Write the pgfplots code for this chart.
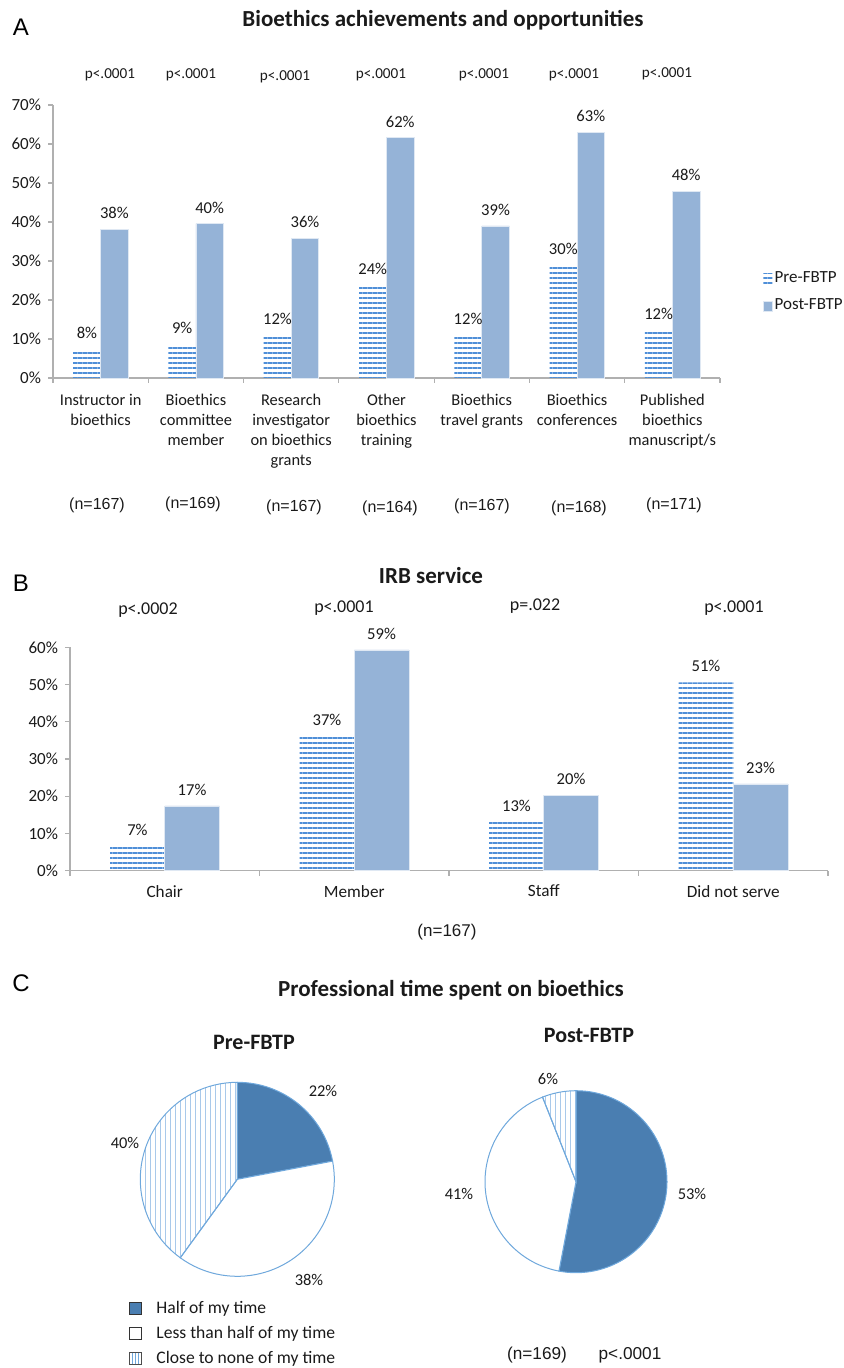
\documentclass[border=0pt]{standalone}
\usepackage{fontspec}
\setmainfont{Carlito}
\newfontfamily\arial{Liberation Sans}
\usepackage{pgfplots}
\pgfplotsset{compat=1.18}
\usepackage{pgfplotstable}
\usetikzlibrary{patterns.meta}
\definecolor{postblue}{HTML}{95B3D7}
\definecolor{preblue}{HTML}{4F8FD8}
\definecolor{axisgray}{HTML}{B0B0B0}
\definecolor{piedark}{HTML}{4A7EB1}
\definecolor{pieedge}{HTML}{6FA8DC}
\definecolor{pielines}{HTML}{A9C9EA}
\definecolor{txt}{HTML}{1A1A1A}

\pgfplotstableread{
x pre prelab post postlab
0.5 7.4 8 38.2 38
1.5 8.6 9 39.6 40
2.5 11.0 12 35.8 36
3.5 23.8 24 61.6 62
4.5 11.0 12 39.0 39
5.5 29.0 30 63.0 63
6.5 12.3 12 47.9 48
}\dataA

\pgfplotstableread{
x pre prelab post postlab
0.5 6.6 7 17.4 17
1.5 36.1 37 59.3 59
2.5 13.2 13 20.3 20
3.5 50.6 51 23.3 23
}\dataB

\pgfplotsset{
 barchart/.style={
  scale only axis, anchor=south west,
  axis x line*=bottom, axis y line*=left,
  axis line style={draw=axisgray, line width=0.6pt},
  tick style={draw=axisgray, line width=0.6pt},
  tick align=outside, major tick length=2.5pt,
  ymin=0, xmin=0,
  ybar=0pt,
  /pgf/number format/assume math mode=true,
  yticklabel={\pgfmathprintnumber{\tick}\%},
  yticklabel style={font=\fontsize{8.5}{10}\selectfont, text=txt},
  xticklabels={},
  extra x tick style={major tick length=0pt, tick style={draw=none}},
  xticklabel style={font=\fontsize{8.2}{10}\selectfont, align=center, anchor=north, inner sep=0pt, text=txt},
  point meta=explicit symbolic,
  nodes near coords={\pgfplotspointmeta\%},
  every node near coord/.append style={font=\fontsize{8.3}{10}\selectfont, inner sep=0pt, yshift=5pt, anchor=south, text=txt},
  clip=false,
 },
 pre/.style={draw=none, pattern={Lines[angle=0,distance=2.5pt,line width=0.55pt]}, pattern color=preblue},
 post/.style={draw=white!70!postblue, line width=0.3pt, fill=postblue},
 smallleg/.style={legend image code/.code={\path[##1] (0pt,-2.5pt) rectangle (4.5pt,2.5pt);}},
 squareleg/.style={legend image code/.code={\draw[##1] (0pt,-3pt) rectangle (6pt,3pt);}},
}

\begin{document}
\begin{tikzpicture}[x=0.5pt,y=-0.5pt]
\useasboundingbox (0,0) rectangle (843,1368);
% ---------------- Panel A
\node[font=\arial\fontsize{12}{14}\selectfont] at (21,27) {A};
\node[font=\bfseries\fontsize{11.5}{14}\selectfont, text=txt] at (443,20) {Bioethics achievements and opportunities};
\begin{scope}[every node/.style={font=\fontsize{7.6}{9}\selectfont, text=txt}]
\node at (110,75) {p<.0001};
\node at (191,75) {p<.0001};
\node at (285,77) {p<.0001};
\node at (381,75) {p<.0001};
\node at (484,75) {p<.0001};
\node at (574,75) {p<.0001};
\node at (667,74) {p<.0001};
\end{scope}
\begin{axis}[barchart, at={(26.5pt,-189pt)}, width=333.5pt, height=136.5pt,
  xmax=7, ymax=70, ytick={0,10,...,70}, xtick={0,...,7},
  extra x ticks={0.5,1.5,...,6.5},
  extra x tick labels={Instructor in\\bioethics, Bioethics\\committee\\member, Research\\investigator\\on bioethics\\grants, Other\\bioethics\\training, Bioethics\\travel grants, Bioethics\\conferences, Published\\bioethics\\manuscript/s},
  xticklabel style={yshift=-8pt},
  bar width=13.75pt,
  legend style={at={(1.064,0.315)}, anchor=west, draw=none, fill=none, font=\fontsize{8.5}{10}\selectfont, row sep=5pt, inner sep=0pt, nodes={inner sep=1pt, text=txt}},
  legend cell align=left]
\addplot[pre, smallleg] table[x=x,y=pre,meta=prelab]{\dataA};
\addplot[post, smallleg] table[x=x,y=post,meta=postlab]{\dataA};
\legend{Pre-FBTP,Post-FBTP}
\end{axis}
\begin{scope}[every node/.style={font=\arial\fontsize{8}{10}\selectfont, text=txt}]
\node at (97,505) {(n=167)};
\node at (193,504) {(n=169)};
\node at (294,507) {(n=167)};
\node at (390,508) {(n=164)};
\node at (482,506) {(n=167)};
\node at (579,508) {(n=168)};
\node at (674,505) {(n=171)};
\end{scope}
% ---------------- Panel B
\node[font=\arial\fontsize{12}{14}\selectfont] at (21,583) {B};
\node[font=\bfseries\fontsize{11.5}{14}\selectfont, text=txt] at (431,576) {IRB service};
\begin{scope}[every node/.style={font=\fontsize{9}{11}\selectfont, text=txt}]
\node at (148,610) {p<.0002};
\node at (344,608) {p<.0001};
\node at (535,606) {p=.022};
\node at (734,608) {p<.0001};
\end{scope}
\begin{axis}[barchart, at={(35pt,-435.35pt)}, width=379pt, height=111.7pt,
  xmax=4, ymax=60, ytick={0,10,...,60}, xtick={0,...,4},
  extra x ticks={0.5,1.5,...,3.5},
  extra x tick labels={Chair, Member, Staff, Did not serve},
  xticklabel style={yshift=-7pt, font=\fontsize{8.6}{10}\selectfont},
  bar width=27.3pt]
\addplot[pre] table[x=x,y=pre,meta=prelab]{\dataB};
\addplot[post] table[x=x,y=post,meta=postlab]{\dataB};
\end{axis}
\node[font=\arial\fontsize{8.5}{10}\selectfont, text=txt] at (447,932) {(n=167)};
% ---------------- Panel C
\node[font=\arial\fontsize{12}{14}\selectfont] at (21,983) {C};
\node[font=\bfseries\fontsize{11.5}{14}\selectfont, text=txt] at (451,990) {Professional time spent on bioethics};
\node[font=\bfseries\fontsize{11}{13}\selectfont, text=txt] at (254,1042) {Pre-FBTP};
\node[font=\bfseries\fontsize{11}{13}\selectfont, text=txt] at (589,1035) {Post-FBTP};
% Pie Pre: 22 / 38 / 40
\begin{axis}[at={(118.65pt,-589.65pt)}, anchor=center, scale only axis, width=97pt, height=97pt,
  xmin=-1,xmax=1,ymin=-1,ymax=1, hide axis, clip=false,
  legend style={at={(-0.058,-0.12)}, anchor=north west, draw=none, fill=none, inner sep=0pt, row sep=3.6pt,
    font=\fontsize{8.8}{10}\selectfont, nodes={inner sep=0pt, text height=6.6pt, text depth=2.3pt, text=txt},
    /tikz/every odd column/.append style={column sep=7pt}},
  legend cell align=left, squareleg]
\filldraw[fill=piedark, draw=pieedge, line width=0.5pt] (axis cs:0,0) -- ++(90:48.5pt) arc[start angle=90, delta angle={-3.6*22}, radius=48.5pt] -- cycle;
\filldraw[fill=white, draw=pieedge, line width=0.5pt] (axis cs:0,0) -- ++({90-3.6*22}:48.5pt) arc[start angle={90-3.6*22}, delta angle={-3.6*38}, radius=48.5pt] -- cycle;
\draw[pattern={Lines[angle=90,distance=2.5pt,line width=0.4pt]}, pattern color=pielines, draw=pieedge, line width=0.5pt] (axis cs:0,0) -- ++({90-3.6*60}:48.5pt) arc[start angle={90-3.6*60}, delta angle={-3.6*40}, radius=48.5pt] -- cycle;
\addlegendimage{fill=piedark, draw=black!80, line width=0.5pt}
\addlegendentry{Half of my time}
\addlegendimage{fill=white, draw=black!80, line width=0.5pt}
\addlegendentry{Less than half of my time}
\addlegendimage{pattern={Lines[angle=90,distance=1.5pt,line width=0.4pt]}, pattern color=pieedge, draw=black!70, line width=0.5pt}
\addlegendentry{Close to none of my time}
\end{axis}
% Pie Post: 53 / 41 / 6
\begin{axis}[at={(288pt,-590.85pt)}, anchor=center, scale only axis, width=91pt, height=91pt,
  xmin=-1,xmax=1,ymin=-1,ymax=1, hide axis, clip=false]
\filldraw[fill=piedark, draw=pieedge, line width=0.5pt] (axis cs:0,0) -- ++(90:45.5pt) arc[start angle=90, delta angle={-3.6*53}, radius=45.5pt] -- cycle;
\filldraw[fill=white, draw=pieedge, line width=0.5pt] (axis cs:0,0) -- ++({90-3.6*53}:45.5pt) arc[start angle={90-3.6*53}, delta angle={-3.6*41}, radius=45.5pt] -- cycle;
\draw[pattern={Lines[angle=90,distance=2.5pt,line width=0.4pt]}, pattern color=pielines, draw=pieedge, line width=0.5pt] (axis cs:0,0) -- ++({90-3.6*94}:45.5pt) arc[start angle={90-3.6*94}, delta angle={-3.6*6}, radius=45.5pt] -- cycle;
\end{axis}
\begin{scope}[every node/.style={font=\fontsize{8.2}{10}\selectfont, text=txt}]
\node at (323,1091) {22\%};
\node at (125,1143) {40\%};
\node at (309,1280) {38\%};
\node at (548,1079) {6\%};
\node at (692,1194) {53\%};
\node at (459,1194) {41\%};
\end{scope}
\node[font=\arial\fontsize{8.6}{10}\selectfont, text=txt] at (537,1355) {(n=169)};
\node[font=\arial\fontsize{8.6}{10}\selectfont, text=txt] at (630,1355) {p<.0001};
\end{tikzpicture}
\end{document}
